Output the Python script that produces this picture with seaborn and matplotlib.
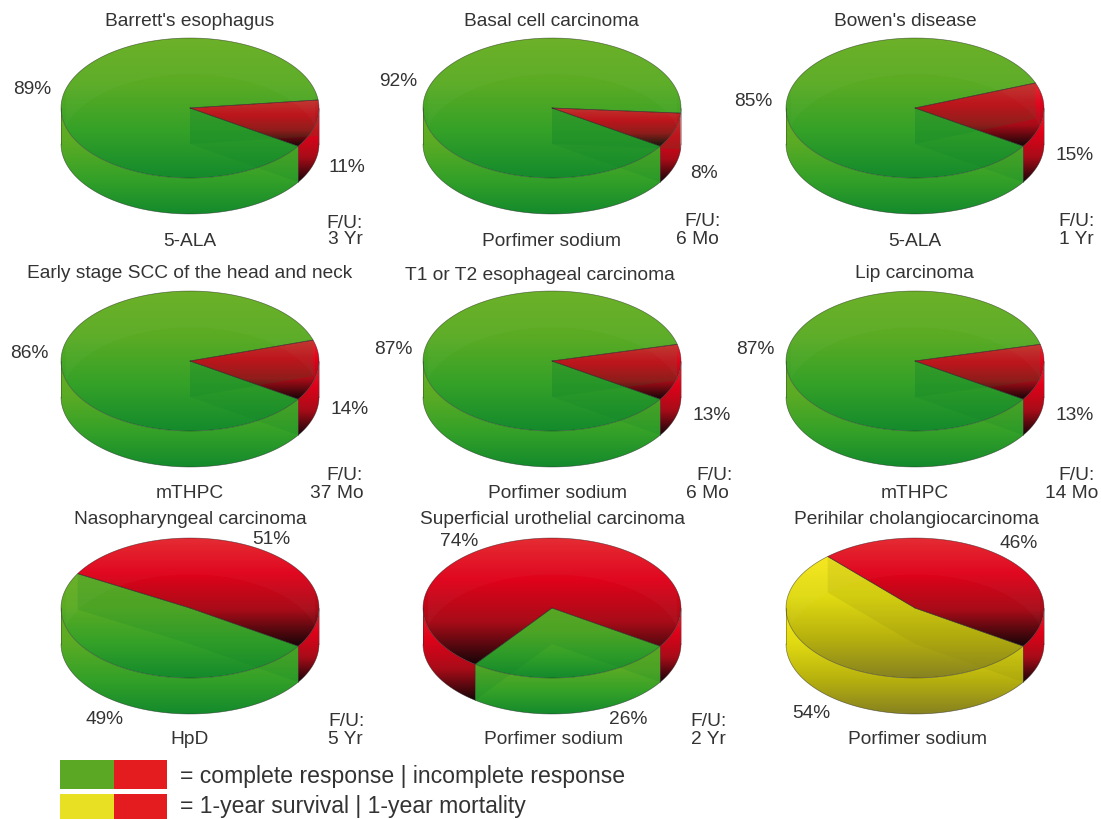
import numpy as np
import matplotlib
matplotlib.use("Agg")
import matplotlib.pyplot as plt
from matplotlib.patches import Polygon, Rectangle
import seaborn as sns

# Study data, one entry per pie
conditions = ["Barrett's esophagus", "Basal cell carcinoma", "Bowen's disease",
              "Early stage SCC of the head and neck", "T1 or T2 esophageal carcinoma", "Lip carcinoma",
              "Nasopharyngeal carcinoma", "Superficial urothelial carcinoma", "Perihilar cholangiocarcinoma"]
agents = ["5-ALA", "Porfimer sodium", "5-ALA", "mTHPC", "Porfimer sodium", "mTHPC",
          "HpD", "Porfimer sodium", "Porfimer sodium"]
followups = ["3 Yr", "6 Mo", "1 Yr", "37 Mo", "6 Mo", "14 Mo", "5 Yr", "2 Yr", None]
favourable_pct = [89, 92, 85, 86, 87, 87, 49, 26, 54]
adverse_pct = [11, 8, 15, 14, 13, 13, 51, 74, 46]
survival_panel = [False] * 8 + [True]

# Figure layout in pixels
FIG_W, FIG_H = 1101, 819
COL_X = [190, 552, 915]
ROW_Y = [108, 361, 608]
RX, RY, DEPTH = 129, 70, 36
START_ANGLE = -33.0
INK = "#333333"
FONT = "Liberation Sans"

# Label anchors relative to each pie centre: title, favourable %, adverse %, F/U, duration, agent
LABEL_POS = [
    [(0, -86), (-158, -19), (157, 59), (155, 115), (155, 132), (0, 133)],
    [(-1, -87), (-154, -26), (152, 66), (150, 114), (145, 132), (0, 133)],
    [(-10, -86), (-162, -6), (160, 47), (161, 114), (161, 132), (0, 133)],
    [(0, -87), (-161, -8), (160, 49), (155, 114), (147, 132), (0, 132)],
    [(-12, -86), (-159, -12), (160, 54), (162, 114), (155, 132), (5, 132)],
    [(-1, -87), (-160, -12), (160, 54), (161, 114), (157, 132), (0, 132)],
    [(0, -88), (-85, 112), (81, -68), (157, 113), (155, 132), (0, 132)],
    [(0, -88), (76, 112), (-93, -66), (156, 113), (156, 132), (1, 132)],
    [(1, -88), (-104, 105), (104, -65), None, None, (2, 132)],
]

sns.set_theme(style="white", rc={"axes.facecolor": "none", "figure.facecolor": "white"})
plt.rcParams["font.family"] = [FONT, "DejaVu Sans"]

# Vertical shading of each surface, from its highest point to its lowest
green_cmap = sns.blend_palette(["#68af22", "#5aab24", "#34a128", "#148a2c"], n_colors=256, as_cmap=True)
yellow_cmap = sns.blend_palette(["#f6e81c", "#e0da12", "#b8b20e", "#878220"], n_colors=256, as_cmap=True)
red_cmap = sns.blend_palette(["#e5272f", "#e0021a", "#a80c18", "#170508"], n_colors=256, as_cmap=True)
red_flat, green_flat, yellow_flat = "#e41c20", "#5aa823", "#e8e022"


def rim(a0, a1, n=160):
    t = np.radians(np.linspace(a0, a1, n))
    return RX * np.cos(t), -RY * np.sin(t)


def shade(ax, xy, cmap):
    """Fill a polygon with a vertical gradient spanning its own extent."""
    xy = np.asarray(xy)
    patch = Polygon(xy, closed=True, transform=ax.transData, facecolor="none", edgecolor="none")
    ax.add_patch(patch)
    grad = np.linspace(0, 1, 256).reshape(-1, 1)
    img = ax.imshow(grad, cmap=cmap, aspect="auto", interpolation="bilinear", vmin=0, vmax=1,
                    extent=(xy[:, 0].min(), xy[:, 0].max(), xy[:, 1].max(), xy[:, 1].min()), zorder=2)
    img.set_clip_path(patch)


def side_pieces(a0, a1):
    """Parts of an angular range (a0 < a1) that lie on the visible front of the cylinder."""
    pieces = []
    for k in (-360, 0, 360):
        lo, hi = max(a0, -180 + k), min(a1, 0 + k)
        if hi > lo:
            pieces.append((lo, hi))
    return pieces


def draw_wedge(ax, a0, a1, cmap):
    for lo, hi in side_pieces(a0, a1):
        x, y = rim(lo, hi)
        shade(ax, np.r_[np.c_[x, y], np.c_[x[::-1], y[::-1] + DEPTH]], cmap)
    x, y = rim(a0, a1)
    shade(ax, np.r_[[[0, 0]], np.c_[x, y]], cmap)


def outline(ax, a0, a1):
    line = dict(color="#222222", lw=0.5, alpha=0.55, zorder=6)
    x, y = rim(a0, a1)
    ax.plot(np.r_[0, x, 0], np.r_[0, y, 0], **line)
    for lo, hi in side_pieces(a0, a1):
        x, y = rim(lo, hi)
        ax.plot(x, y + DEPTH, **line)


def vertical_edges(ax, angles):
    """Silhouette lines and the front seams where two wedges meet."""
    line = dict(color="#222222", lw=0.5, alpha=0.5, zorder=6)
    for ang in angles:
        wrapped = (ang + 180) % 360 - 180
        if -175 < wrapped < -5 or wrapped in (0, -180):
            x, y = rim(wrapped, wrapped, n=1)
            ax.plot([x[0], x[0]], [y[0], y[0] + DEPTH], **line)


def translucency(ax, angles, wall_color):
    """Back rim and cut walls showing faintly through the upper surface."""
    half = np.sqrt(RX**2 * (1 - (DEPTH / (2 * RY))**2))
    xs = np.linspace(-half, half, 200)
    upper = -RY * np.sqrt(np.clip(1 - (xs / RX)**2, 0, 1))
    ax.fill_between(xs, upper, upper + DEPTH, color="white", alpha=0.028, lw=0, zorder=4)
    for ang in angles:
        x, y = rim(ang, ang, n=1)
        face = [(0, 0), (0, DEPTH), (x[0], y[0] + DEPTH), (x[0], y[0])]
        ax.add_patch(Polygon(face, closed=True, facecolor=wall_color, edgecolor="none", alpha=0.16, zorder=4))


fig = plt.figure(figsize=(FIG_W / 100, FIG_H / 100), dpi=100)

for i in range(9):
    cx, cy = COL_X[i % 3], ROW_Y[i // 3]
    left, right, top, bottom = cx - 190, cx + 190, cy - 105, cy + 140
    ax = fig.add_axes([left / FIG_W, 1 - bottom / FIG_H, (right - left) / FIG_W, (bottom - top) / FIG_H])
    ax.set_axis_off()

    main_cmap = yellow_cmap if survival_panel[i] else green_cmap
    wall = "#8a8510" if survival_panel[i] else "#0b7f2e"
    sweep = favourable_pct[i] / 100 * 360
    end = START_ANGLE - sweep

    # Favourable share runs clockwise from the start angle, the rest closes the circle
    draw_wedge(ax, end, START_ANGLE, main_cmap)
    draw_wedge(ax, START_ANGLE, end + 360, red_cmap)
    translucency(ax, [START_ANGLE, end], wall)
    outline(ax, end, START_ANGLE)
    outline(ax, START_ANGLE, end + 360)
    vertical_edges(ax, [START_ANGLE, end, 0, -180])

    pos = LABEL_POS[i]
    texts = [conditions[i], f"{favourable_pct[i]}%", f"{adverse_pct[i]}%",
             "F/U:" if followups[i] else None, followups[i], agents[i]]
    for label, p in zip(texts, pos):
        if label:
            ax.text(p[0], p[1], label, ha="center", va="center", fontsize=13.8, color=INK,
                    family=[FONT, "DejaVu Sans"], zorder=8, clip_on=False)

    ax.set_xlim(-190, 190)
    ax.set_ylim(bottom - cy, top - cy)

# Colour key along the bottom edge
key = fig.add_axes([0, 0, 1, 1], facecolor="none")
key.set_axis_off()
key_rows = [(green_flat, "= complete response | incomplete response", 760, 777),
            (yellow_flat, "= 1-year survival | 1-year mortality", 794, 807)]
for color, label, y0, ty in key_rows:
    key.add_patch(Rectangle((60, y0), 54, 29, facecolor=color, edgecolor="none"))
    key.add_patch(Rectangle((114, y0), 53, 29, facecolor=red_flat, edgecolor="none"))
    key.text(180, ty, label, ha="left", va="center", fontsize=16.6, color=INK)
key.set_xlim(0, FIG_W)
key.set_ylim(FIG_H, 0)

fig.savefig("out.png", dpi=100)
